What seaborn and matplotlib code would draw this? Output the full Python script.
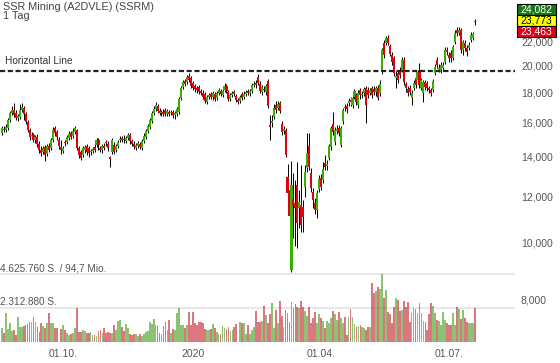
import numpy as np
import pandas as pd
import matplotlib
matplotlib.use("Agg")
import matplotlib.pyplot as plt
from matplotlib.patches import Rectangle
from matplotlib.ticker import FixedLocator, FuncFormatter, NullLocator
import seaborn as sns

# daily candles in 1,000 units, 19.08.2019 - 20.07.2020
opens = [
    15.38, 15.62, 15.56, 15.69, 16.19, 16.63, 16.83, 16.63, 16.31, 16.37,
    16.83, 16.96, 16.57, 16.06, 15.56, 15.20, 15.26, 14.97, 15.14, 14.73,
    14.39, 14.28, 14.56, 14.17, 14.62, 14.50, 14.97, 15.69, 15.44, 14.97,
    14.56, 14.33, 14.85, 14.85, 15.08, 15.38, 15.20, 15.44, 15.56, 14.50,
    14.28, 14.11, 14.39, 14.62, 14.50, 14.28, 14.33, 14.56, 14.68, 14.97,
    14.50, 14.39, 14.62, 14.85, 14.73, 14.00, 14.28, 14.68, 14.39, 14.62,
    14.97, 15.08, 15.02, 14.91, 15.08, 15.26, 14.91, 14.73, 14.50, 14.62,
    14.73, 14.50, 14.91, 15.14, 15.50, 15.75, 16.12, 16.63, 16.90, 17.10,
    16.76, 16.63, 16.70, 16.83, 16.57, 16.70, 16.63, 16.70, 16.50, 16.57,
    16.70, 17.64, 18.42, 18.86, 18.78, 19.23, 19.08, 18.71, 18.49, 18.35,
    18.42,
    18.13, 17.99, 17.92, 17.37, 17.71, 17.92, 17.71, 17.92, 17.64,
    17.99, 18.13, 17.85, 18.20, 18.49, 18.06, 17.57, 17.85, 18.06, 17.78,
    17.50, 17.43, 17.92, 17.71, 17.92, 18.13, 17.99, 18.13, 18.56, 18.71,
    19.15, 18.64, 18.06, 18.28, 18.06, 18.86, 15.87, 15.99, 16.37, 17.16,
    16.96, 17.30, 15.93, 15.50, 15.56, 12.95, 12.30, 8.99, 11.88, 11.69,
    12.55,
    11.47, 11.60, 11.51, 12.45, 13.41, 14.62, 13.15, 12.21, 11.69,
    11.38, 12.35, 12.90, 12.79, 13.68, 13.52, 13.95, 14.56, 15.93, 14.85,
    15.50, 15.69, 14.68, 16.12, 17.03, 17.10, 17.30, 17.50, 17.16, 17.71,
    17.85, 17.16, 18.20, 17.85, 17.99, 18.35, 18.20, 17.99, 18.35, 18.28,
    18.06, 18.35, 17.99, 19.54, 21.89, 21.89,
    22.32, 21.64, 20.88, 20.64,
    19.08, 19.46, 19.69, 19.69, 20.48, 18.64, 18.28, 18.35, 17.64, 18.35,
    19.08, 18.93, 19.54, 18.35, 17.99, 18.78, 18.71, 18.35, 18.20, 18.20,
    19.46, 20.48, 19.69, 19.69, 19.84, 20.32, 21.30, 20.88, 21.05, 20.64,
    21.98, 23.03, 22.76, 23.03, 21.30, 21.89, 21.47, 21.47, 22.15, 22.32,
    23.90,
]
closes = [
    15.69, 15.56, 15.75, 16.19, 16.63, 16.83, 16.50, 16.31, 16.44, 16.83,
    17.03, 16.57, 16.06, 15.56, 15.14, 15.26, 14.97, 15.14, 14.73, 14.39,
    14.22, 14.50, 14.11, 14.62, 14.39, 14.97, 15.56, 15.38, 15.14, 14.62,
    14.39, 14.50, 14.79, 15.14, 15.32, 15.14, 15.50, 15.69, 14.50, 14.11,
    13.95, 14.50, 14.56, 14.28, 14.22, 14.33, 14.45, 14.39, 14.97, 14.68,
    14.39, 14.62, 14.50, 14.79, 14.50, 13.90, 14.97, 14.28, 14.62, 14.85,
    15.02, 14.97, 14.97, 15.08, 15.26, 14.91, 14.73, 14.56, 14.68, 14.79,
    14.56, 14.91, 15.20, 15.50, 15.81, 16.19, 16.63, 16.90, 17.16, 16.76,
    16.63, 16.70, 16.57, 16.57, 16.76, 16.57, 16.70, 16.50, 16.63, 16.90,
    17.57, 18.35, 18.78, 18.64, 19.15, 18.93, 18.49, 18.35, 18.28, 18.20,
    18.06,
    17.99, 17.71, 17.43, 17.71, 17.85, 17.71, 17.99, 17.57, 17.99,
    18.20, 17.92, 18.13, 18.49, 18.13, 17.57, 17.85, 17.99, 17.92, 17.50,
    17.37, 17.71, 17.64, 17.92, 18.06, 17.99, 18.13, 18.56, 18.64, 18.56,
    18.71, 18.13, 18.42, 18.20, 18.49, 17.10, 15.75, 16.12, 16.96, 16.83,
    17.23, 16.76, 15.44, 15.62, 14.11, 12.16, 11.12, 12.55, 11.56, 11.47,
    10.82,
    11.74, 10.73, 11.08, 13.21, 14.22, 13.47, 12.40, 11.83, 11.38,
    12.16, 12.85, 12.45, 13.36, 13.47, 13.63, 14.62, 15.69, 15.44, 15.56,
    15.62, 15.38, 15.69, 16.83, 16.96, 16.90, 17.43, 17.37, 17.64, 18.13,
    17.37, 17.99, 17.85, 17.92, 18.28, 17.16, 17.85, 18.20, 17.85, 18.06,
    18.35, 17.64, 18.64, 21.30, 20.88, 22.32,
    21.89, 20.97, 20.32, 19.46,
    19.23, 18.93, 19.31, 20.48, 18.78, 18.35, 17.99, 18.06, 17.99, 18.71,
    18.56, 19.54, 18.56, 18.93, 18.78, 18.42, 18.35, 18.20, 17.99, 18.86,
    19.92, 20.08, 19.84, 20.08, 20.08, 21.30, 21.13, 20.64, 20.64, 21.55,
    22.76, 22.76, 23.03, 21.30, 21.98, 21.47, 21.13, 21.72, 22.58, 22.67,
    23.77,
]
highs = [
    15.81, 15.81, 15.93, 16.31, 16.76, 17.10, 17.30, 16.83, 16.57, 17.23,
    17.30, 17.10, 16.70, 16.19, 15.69, 15.44, 15.38, 15.26, 15.32, 14.91,
    14.62, 14.62, 14.68, 14.73, 14.79, 15.08, 15.75, 15.81, 15.56, 15.14,
    14.97, 14.62, 14.97, 15.26, 15.50, 15.50, 15.69, 15.81, 15.62, 14.62,
    14.39, 14.62, 14.68, 14.73, 14.62, 14.45, 14.56, 14.73, 15.08, 15.08,
    14.62, 14.73, 14.79, 14.97, 14.91, 14.06, 15.08, 14.85, 14.73, 14.97,
    15.20, 15.20, 15.26, 15.20, 15.38, 15.38, 15.02, 14.91, 14.79, 14.91,
    14.85, 15.02, 15.38, 15.62, 15.93, 16.31, 16.76, 17.10, 17.37, 17.23,
    16.96, 16.83, 16.90, 16.96, 16.90, 16.83, 16.83, 16.83, 16.76, 17.03,
    17.71, 18.49, 18.93, 19.00, 19.31, 19.46, 19.23, 18.86, 18.64, 18.49,
    18.56,
    18.28, 18.20, 18.06, 17.85, 17.99, 18.06, 18.13, 18.06, 18.13,
    18.35, 18.28, 18.42, 18.71, 18.64, 18.20, 17.99, 18.13, 18.20, 17.92,
    17.64, 17.85, 18.06, 18.13, 18.20, 18.28, 18.28, 18.71, 18.86, 18.93,
    19.38, 18.86, 18.56, 18.49, 18.64, 19.00, 16.50, 16.50, 17.23, 17.43,
    17.43, 17.43, 16.12, 15.81, 15.69, 13.63, 12.55, 13.79, 13.15, 12.79,
    13.73,
    12.30, 13.57, 11.83, 13.57, 15.38, 15.38, 13.41, 12.40, 11.92,
    12.30, 13.05, 13.10, 13.73, 14.11, 13.84, 14.73, 15.81, 16.70, 15.75,
    15.87, 15.87, 15.81, 16.96, 17.23, 17.30, 17.64, 17.71, 17.78, 18.28,
    17.99, 18.20, 18.35, 18.13, 18.42, 18.49, 18.42, 18.35, 18.49, 18.49,
    18.49, 18.56, 18.93, 21.47, 22.15, 22.50,
    22.58, 21.81, 21.13, 20.81,
    19.62, 19.69, 19.92, 20.72, 20.72, 18.78, 18.49, 18.56, 18.20, 18.93,
    19.23, 19.69, 20.24, 19.08, 18.93, 18.93, 18.86, 18.49, 18.35, 19.00,
    20.16, 20.72, 20.16, 20.32, 20.32, 21.55, 21.55, 21.13, 21.30, 21.72,
    23.03, 23.30, 23.30, 23.21, 22.15, 22.15, 21.72, 21.98, 22.85, 22.85,
    24.08,
]
lows = [
    15.26, 15.44, 15.44, 15.56, 16.06, 16.50, 16.37, 16.19, 16.12, 16.25,
    16.70, 16.19, 15.93, 15.44, 14.97, 15.02, 14.85, 14.79, 14.56, 14.22,
    14.06, 14.17, 13.79, 14.06, 14.28, 14.39, 14.85, 15.20, 14.97, 14.45,
    14.17, 14.22, 14.62, 14.73, 14.97, 15.02, 15.08, 15.32, 14.39, 13.95,
    13.84, 14.00, 14.22, 14.11, 14.00, 14.11, 14.22, 14.28, 14.56, 14.39,
    14.28, 14.22, 14.39, 14.62, 14.33, 13.47, 14.17, 14.17, 14.28, 14.50,
    14.85, 14.85, 14.79, 14.79, 14.97, 14.73, 14.62, 14.45, 14.39, 14.50,
    14.45, 14.39, 14.79, 15.02, 15.38, 15.62, 16.00, 16.50, 16.76, 16.63,
    16.50, 16.44, 16.44, 16.44, 16.44, 16.44, 16.50, 16.31, 16.25, 16.44,
    16.57, 17.50, 18.28, 18.49, 18.64, 18.78, 18.35, 18.20, 18.06, 17.99,
    17.92,
    17.85, 17.57, 17.30, 17.23, 17.57, 17.57, 17.50, 17.43, 17.50,
    17.85, 17.78, 17.71, 18.06, 17.99, 17.43, 17.43, 17.71, 17.78, 17.37,
    17.23, 17.30, 17.50, 17.57, 17.78, 17.85, 17.78, 17.99, 18.42, 18.35,
    18.56, 17.99, 17.85, 18.06, 17.85, 16.96, 14.97, 15.75, 16.25, 16.63,
    16.83, 16.63, 15.26, 15.32, 14.00, 12.06, 10.86, 8.92, 10.20, 9.88,
    9.80,
    10.60, 10.44, 10.44, 11.97, 13.21, 13.31, 12.21, 11.47, 11.20,
    11.03, 12.21, 12.30, 12.65, 13.31, 13.31, 13.84, 14.39, 15.26, 14.68,
    15.32, 15.20, 14.56, 15.93, 16.76, 16.63, 17.10, 17.10, 16.96, 17.57,
    17.16, 16.96, 17.57, 17.64, 17.78, 15.99, 17.64, 17.85, 17.64, 17.85,
    17.78, 17.50, 17.78, 19.38, 20.64, 21.72,
    21.72, 20.81, 20.08, 19.23,
    18.35, 18.71, 19.08, 19.54, 18.56, 18.06, 17.78, 17.85, 17.16, 18.20,
    18.35, 18.71, 18.35, 18.20, 17.37, 18.20, 18.13, 17.99, 17.78, 18.06,
    19.31, 19.84, 19.54, 19.46, 19.62, 20.16, 20.88, 20.32, 20.32, 20.48,
    21.81, 22.50, 22.58, 21.05, 20.88, 21.21, 20.81, 21.30, 21.98, 22.15,
    23.46,
]
# volume in million shares
volumes = [
    0.95, 0.60, 2.00, 0.90, 1.30, 0.75, 0.82, 0.50, 1.70, 1.00, 1.05,
    1.10, 1.16, 1.20, 1.35, 1.38, 1.68, 1.38, 1.04, 0.70, 1.31, 1.10,
    0.93, 1.31, 2.00, 1.31, 1.31, 0.93, 0.93, 0.02, 0.86, 1.16, 0.80,
    0.59, 0.48, 0.54, 0.63, 0.93, 2.30, 0.70, 0.70, 0.82, 0.77, 0.60,
    0.63, 0.70, 0.48, 0.48, 0.41, 0.77, 0.82, 0.59, 0.93, 0.63, 0.70,
    0.63, 0.63, 1.16, 0.82, 1.40, 1.50, 1.00, 0.77, 1.20, 0.93, 0.55,
    0.48, 0.54, 0.54, 0.41, 0.54, 0.41, 0.54, 0.70, 0.77, 1.38, 1.20,
    1.54, 1.16, 1.09, 0.59, 0.54, 1.09, 1.38, 0.82, 1.50, 0.63, 0.90,
    0.82, 2.00, 2.29, 1.16, 1.16, 0.93, 1.16, 2.06, 1.16, 2.06, 1.30,
    1.16, 1.38,
    1.38, 1.27, 0.88, 0.82, 0.82, 0.86, 1.22, 0.93, 0.70,
    0.54, 0.54, 1.09, 0.93, 0.86, 1.04, 0.77, 0.82, 1.00,
    1.22, 0.02, 1.38, 1.31, 1.27, 0.54, 1.16, 0.54, 0.80,
    1.04, 2.13, 1.38, 1.38, 1.45, 2.45, 1.84, 1.27, 1.90,
    2.63, 0.93, 2.18, 1.31, 2.81, 1.77, 1.04, 2.18, 2.00,
    1.38, 2.74, 2.29, 2.58, 2.40, 2.29, 2.81, 2.40, 2.10,
    1.77, 2.40, 1.31, 1.61, 2.06, 1.31, 1.90, 1.61, 1.40,
    0.93, 1.45, 1.27, 1.61, 2.13, 1.90, 1.50, 2.06, 1.60,
    1.27, 1.72, 0.48, 1.72, 2.22, 1.68, 1.22, 1.04, 1.10,
    1.16, 1.04, 0.93, 0.82, 1.04, 1.04, 3.99, 3.31, 3.50,
    3.76, 3.58, 4.62, 2.97, 3.54, 2.06, 1.90, 1.27, 2.40,
    2.97, 2.86, 2.13, 2.18, 2.81, 2.36, 2.74, 1.38, 2.00,
    2.29, 2.22, 1.99, 2.63, 1.99, 1.45, 1.38, 0.82, 1.90,
    2.63, 2.45, 1.99, 1.50, 1.45, 1.16, 2.06, 1.50, 1.30,
    1.16, 1.16, 1.95, 1.16, 2.36, 2.22, 1.54, 2.18, 1.60,
    1.38, 1.31, 1.27, 1.31, 2.29,
]

tick_dates = ["2019-10-01", "2020-01-01", "2020-04-01", "2020-07-01"]
tick_labels = ["01.10.", "2020", "01.04.", "01.07."]
price_ticks = [8, 10, 12, 14, 16, 18, 20, 22]
horizontal_line = 19.61
vol_levels = [4.62576, 2.31288]
last_quotes = ["24,082", "23,773", "23,463"]

df = pd.DataFrame({"open": opens, "high": highs, "low": lows,
                   "close": closes, "volume": volumes})
df["date"] = pd.bdate_range("2019-08-19", periods=len(df))
df["pos"] = np.arange(len(df))
df["dir"] = np.where(df["close"] > df["open"], "up",
                     np.where(df["close"] < df["open"], "down", "flat"))

sns.set_theme(style="white")
plt.rcParams["font.family"] = ["Liberation Sans", "DejaVu Sans"]

green, red, grey = "#39b000", "#e00010", "#aaaaaa"
pal = {"up": green, "down": red, "flat": grey}

fig = plt.figure(figsize=(5.6, 3.63), dpi=100)
ax = fig.add_axes([0, 18 / 363, 515 / 560, 345 / 363])
ax2 = ax.twinx()

# volume pane
sns.barplot(data=df, x="pos", y="volume", hue="dir",
            palette={k: pal[k] for k in df["dir"].unique()},
            native_scale=True, dodge=False, width=0.9, alpha=0.6,
            errorbar=None, legend=False, linewidth=0, ax=ax2)
for lvl in vol_levels:
    ax2.axhline(lvl, color="#e2e2e2", lw=1.1, zorder=0)
ax2.set_ylim(-0.204, 23.27)
ax2.set_yticks([])
ax2.set_xlabel("")
ax2.set_ylabel("")

# candles
body_lo = np.minimum(df["open"], df["close"])
body_h = np.maximum((df["close"] - df["open"]).abs(), 0.04)
ax.vlines(df["pos"], df["low"], df["high"], color="black", lw=0.7, zorder=2)
ax.bar(df["pos"], body_h, bottom=body_lo, width=1.05,
       color=df["dir"].map(pal), linewidth=0, zorder=3)
ax.axhline(horizontal_line, color="#222222", lw=1.6, ls=(0, (2.3, 1.2)), zorder=4)

ax.set_yscale("log")
ax.set_ylim(6.70, 25.90)
ax.yaxis.set_major_locator(FixedLocator(price_ticks))
ax.yaxis.set_minor_locator(NullLocator())
ax.yaxis.set_major_formatter(FuncFormatter(lambda v, p: f"{v * 1000:,.0f}"))
ax.yaxis.tick_right()
ax.tick_params(axis="y", length=0, pad=4.3, labelsize=7.5, labelcolor="#555555")

xt = df["date"].searchsorted(pd.to_datetime(tick_dates))
ax.set_xticks(xt, tick_labels)
ax.tick_params(axis="x", length=0, pad=3, labelsize=7.5, labelcolor="#555555")
ax.set_xlim(-1.0, 260.5)
ax.set_xlabel("")
ax.set_ylabel("")
for a in (ax, ax2):
    for s in a.spines.values():
        s.set_visible(False)

# texts
W, H = 560, 363
fig.text(3 / W, 1 - 1.5 / H, "SSR Mining (A2DVLE) (SSRM)\n1 Tag", fontsize=7.8,
         color="#444444", va="top", linespacing=0.92)
fig.text(5 / W, 1 - 63.5 / H, "Horizontal Line", fontsize=7.3, color="#333333",
         va="baseline")
fig.text(0.5 / W, 1 - 271.5 / H, "4.625.760 S. / 94,7 Mio.", fontsize=7.2,
         color="#555555", va="baseline")
fig.text(0.5 / W, 1 - 305 / H, "2.312.880 S.", fontsize=7.2,
         color="#555555", va="baseline")

boxes = [(3.5, "#187818", "white"), (14.5, "#ffff00", "black"), (25.5, "#e0001a", "white")]
for (top, fc, tc), txt in zip(boxes, last_quotes):
    fig.patches.append(Rectangle((517 / W, 1 - (top + 11) / H), 39 / W, 11 / H,
                                 transform=fig.transFigure, facecolor=fc,
                                 edgecolor="black", lw=0.8, zorder=5))
    fig.text(536.5 / W, 1 - (top + 5.7) / H, txt, fontsize=7.5, color=tc,
             ha="center", va="center", zorder=6)

fig.savefig("out.png", dpi=100)
